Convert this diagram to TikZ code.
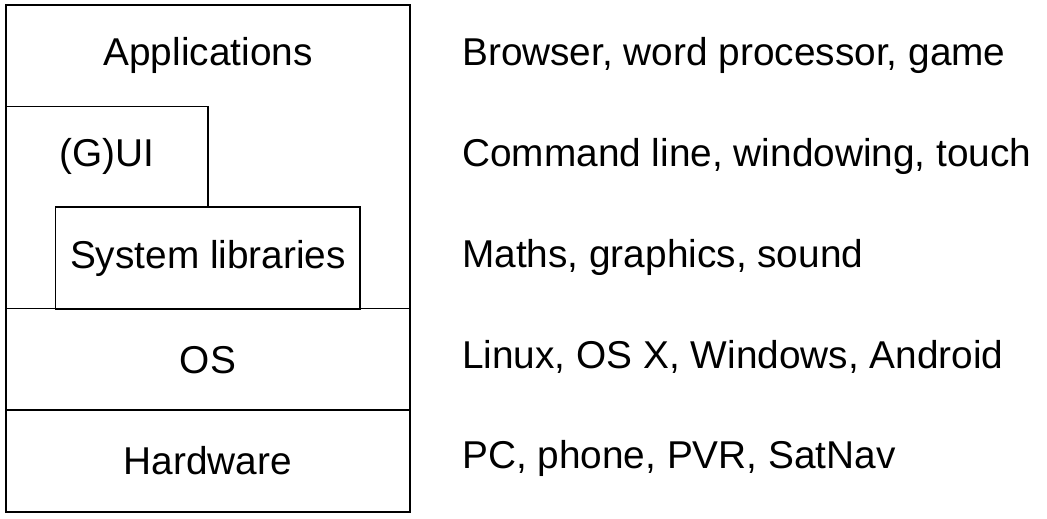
\documentclass[tikz,border=0pt]{standalone}
\usepackage{fontspec}
\setmainfont{Liberation Sans}
\begin{document}
\begin{tikzpicture}[x=1pt,y=-1pt,
    layer/.style={draw=black, line width=1.2pt},
    lbl/.style={anchor=base, inner sep=0pt, font=\fontsize{38.8}{46}\selectfont},
    desc/.style={anchor=base west, inner sep=0pt, font=\fontsize{38.8}{46}\selectfont}]
  \useasboundingbox (0,0) rectangle (1047,519);
  % stack outline and layer boundaries
  \draw[layer] (6,5) rectangle (410,512);
  \draw[layer] (6,106.5) -- (208,106.5) -- (208,207);
  \draw[layer] (55.5,207) rectangle (360,309);
  \draw[layer] (6,308.5) -- (410,308.5);
  \draw[layer] (6,410) -- (410,410);
  % layer names
  \node[lbl] (apps) at (208,65.5) {Applications};
  \node[lbl] (gui)  at (107,166.5) {(G)UI};
  \node[lbl] (libs) at (208,268) {System libraries};
  \node[lbl] (os)   at (208,373) {OS};
  \node[lbl] (hw)   at (208,474) {Hardware};
  % examples for each layer
  \node[desc] (appsx) at (462,65.5) {Browser, word processor, game};
  \node[desc] (guix)  at (462,166.5) {Command line, windowing, touch};
  \node[desc] (libsx) at (462,267) {Maths, graphics, sound};
  \node[desc] (osx)   at (462,368) {Linux, OS X, Windows, Android};
  \node[desc] (hwx)   at (462,468) {PC, phone, PVR, SatNav};
\end{tikzpicture}
\end{document}
